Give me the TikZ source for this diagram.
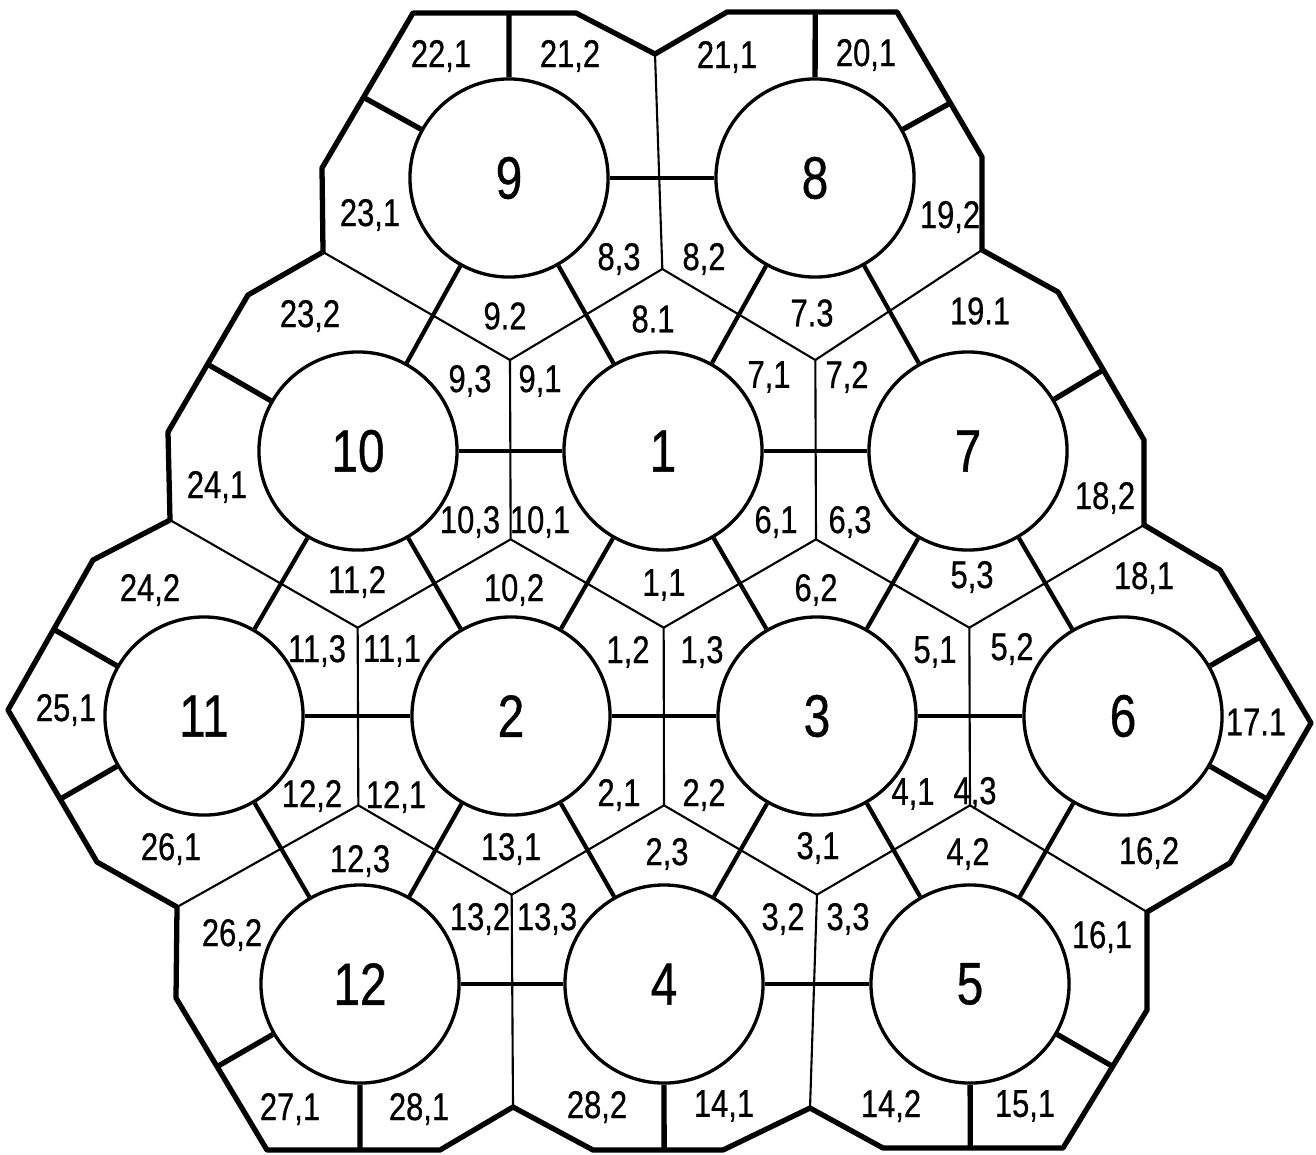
\documentclass[tikz,border=0pt]{standalone}
\usepackage{fontspec}
\setmainfont{Liberation Sans}[FakeStretch=0.8,FakeBold=0.6]
\usetikzlibrary{calc}
\newcommand{\radl}[4]{%
  \coordinate (tmpd) at ($(c#1)+(#2:100)$);
  \draw[radial] (r#1) -- (intersection of c#1--tmpd and #3--#4);}
\begin{document}
\begin{tikzpicture}[x=0.01cm,y=-0.01cm,
  rod/.style={circle,draw,line width=0.95pt,minimum size=1.98cm,inner sep=0pt,font=\fontsize{17}{20}\selectfont},
  bond/.style={line width=1.2pt},
  radial/.style={line width=1.5pt},
  wall/.style={line width=1.5pt,line join=round},
  cell/.style={line width=0.6pt},
  lab/.style={inner sep=0pt,font=\fontsize{11}{13}\selectfont}]
\useasboundingbox (0,0) rectangle (1316,1154);
% rod centres
\coordinate (c9) at (509,178);
\coordinate (c8) at (815,178);
\coordinate (c10) at (358,451);
\coordinate (c1) at (663,451);
\coordinate (c7) at (968,451);
\coordinate (c11) at (204,716);
\coordinate (c2) at (511,716);
\coordinate (c3) at (817,716);
\coordinate (c6) at (1123,716);
\coordinate (c12) at (360,984);
\coordinate (c4) at (664,984);
\coordinate (c5) at (970,984);
% subchannel centroids
\coordinate (s8) at (barycentric cs:c9=1,c8=1,c1=1);
\coordinate (s9) at (barycentric cs:c9=1,c10=1,c1=1);
\coordinate (s7) at (barycentric cs:c8=1,c1=1,c7=1);
\coordinate (s10) at (barycentric cs:c10=1,c1=1,c2=1);
\coordinate (s1) at (barycentric cs:c1=1,c2=1,c3=1);
\coordinate (s6) at (barycentric cs:c1=1,c7=1,c3=1);
\coordinate (s5) at (barycentric cs:c7=1,c3=1,c6=1);
\coordinate (s11) at (barycentric cs:c10=1,c11=1,c2=1);
\coordinate (s12) at (barycentric cs:c11=1,c2=1,c12=1);
\coordinate (s13) at (barycentric cs:c2=1,c12=1,c4=1);
\coordinate (s2) at (barycentric cs:c2=1,c3=1,c4=1);
\coordinate (s3) at (barycentric cs:c3=1,c4=1,c5=1);
\coordinate (s4) at (barycentric cs:c3=1,c6=1,c5=1);
% wall vertices
\coordinate (w1) at (413,13);
\coordinate (w2) at (576,13);
\coordinate (w3) at (655,54);
\coordinate (w4) at (727,12);
\coordinate (w5) at (897,12);
\coordinate (w6) at (982,157);
\coordinate (w7) at (982,250);
\coordinate (w8) at (1058,292);
\coordinate (w9) at (1144,440);
\coordinate (w10) at (1144,525);
\coordinate (w11) at (1220,570);
\coordinate (w12) at (1311,723);
\coordinate (w13) at (1230,863);
\coordinate (w14) at (1147,912);
\coordinate (w15) at (1147,1010);
\coordinate (w16) at (1063,1148);
\coordinate (w17) at (883,1148);
\coordinate (w18) at (810,1108);
\coordinate (w19) at (723,1150);
\coordinate (w20) at (593,1150);
\coordinate (w21) at (513,1107);
\coordinate (w22) at (440,1150);
\coordinate (w23) at (267,1150);
\coordinate (w24) at (176,998);
\coordinate (w25) at (177,907);
\coordinate (w26) at (97,862);
\coordinate (w27) at (8,710);
\coordinate (w28) at (93,560);
\coordinate (w29) at (170,520);
\coordinate (w30) at (168,432);
\coordinate (w31) at (248,295);
\coordinate (w32) at (323,252);
\coordinate (w33) at (322,168);
% rods
\foreach \n in {1,...,12} {\node[rod] (r\n) at (c\n) {\n};}
% cell boundaries (thin)
\draw[cell] (s8) -- (w3);
\draw[cell] (w32) -- (s9) -- (s8) -- (s7) -- (w7);
\draw[cell] (s9) -- (s10);
\draw[cell] (s7) -- (s6);
\draw[cell] (w29) -- (s11) -- (s10) -- (s1) -- (s6) -- (s5) -- (w10);
\draw[cell] (s11) -- (s12);
\draw[cell] (s1) -- (s2);
\draw[cell] (s5) -- (s4);
\draw[cell] (w25) -- (s12) -- (s13) -- (s2) -- (s3) -- (s4) -- (w14);
\draw[cell] (s13) -- (w21);
\draw[cell] (s3) -- (w18);
% bonds between rods
\draw[bond] (r9) -- (r8);
\draw[bond] (r9) -- (r10);
\draw[bond] (r9) -- (r1);
\draw[bond] (r8) -- (r1);
\draw[bond] (r8) -- (r7);
\draw[bond] (r10) -- (r1);
\draw[bond] (r1) -- (r7);
\draw[bond] (r10) -- (r11);
\draw[bond] (r10) -- (r2);
\draw[bond] (r1) -- (r2);
\draw[bond] (r1) -- (r3);
\draw[bond] (r7) -- (r3);
\draw[bond] (r7) -- (r6);
\draw[bond] (r11) -- (r2);
\draw[bond] (r2) -- (r3);
\draw[bond] (r3) -- (r6);
\draw[bond] (r11) -- (r12);
\draw[bond] (r2) -- (r12);
\draw[bond] (r2) -- (r4);
\draw[bond] (r3) -- (r4);
\draw[bond] (r3) -- (r5);
\draw[bond] (r6) -- (r5);
\draw[bond] (r12) -- (r4);
\draw[bond] (r4) -- (r5);
% radial dividers to the wall
\radl{9}{-90}{w1}{w2}
\radl{9}{-151}{w33}{w1}
\radl{8}{-90}{w4}{w5}
\radl{8}{-29}{w5}{w6}
\radl{10}{-150}{w30}{w31}
\radl{7}{-31}{w8}{w9}
\radl{11}{-150}{w27}{w28}
\radl{11}{150}{w26}{w27}
\radl{6}{-30}{w11}{w12}
\radl{6}{30}{w12}{w13}
\radl{12}{150}{w23}{w24}
\radl{12}{90}{w22}{w23}
\radl{4}{90}{w19}{w20}
\radl{5}{90}{w16}{w17}
\radl{5}{30}{w15}{w16}
% wall
\draw[wall] (w1) -- (w2) -- (w3) -- (w4) -- (w5) -- (w6) -- (w7) -- (w8) -- (w9) -- (w10)
  -- (w11) -- (w12) -- (w13) -- (w14) -- (w15) -- (w16) -- (w17) -- (w18) -- (w19) -- (w20)
  -- (w21) -- (w22) -- (w23) -- (w24) -- (w25) -- (w26) -- (w27) -- (w28) -- (w29) -- (w30)
  -- (w31) -- (w32) -- (w33) -- cycle;
% labels
\node[lab] (t221) at (441,56) {22,1};
\node[lab] (t212) at (570,56) {21,2};
\node[lab] (t211) at (727,57) {21,1};
\node[lab] (t201) at (866,55) {20,1};
\node[lab] (t231) at (370,215) {23,1};
\node[lab] (t192) at (950,217) {19,2};
\node[lab] (t83) at (619,259) {8,3};
\node[lab] (t82) at (704,259) {8,2};
\node[lab] (t232) at (310,316) {23,2};
\node[lab] (t92) at (505,316) {9.2};
\node[lab] (t81) at (653,319) {8.1};
\node[lab] (t73) at (812,313) {7.3};
\node[lab] (t191) at (980,311) {19.1};
\node[lab] (t93) at (470,381) {9,3};
\node[lab] (t91) at (540,381) {9,1};
\node[lab] (t71) at (769,377) {7,1};
\node[lab] (t72) at (847,377) {7,2};
\node[lab] (t241) at (217,487) {24,1};
\node[lab] (t182) at (1105,498) {18,2};
\node[lab] (t103) at (470,522) {10,3};
\node[lab] (t101) at (540,522) {10,1};
\node[lab] (t61) at (776,522) {6,1};
\node[lab] (t63) at (850,522) {6,3};
\node[lab] (t242) at (150,590) {24,2};
\node[lab] (t112) at (357,582) {11,2};
\node[lab] (t102) at (514,590) {10,2};
\node[lab] (t11) at (664,585) {1,1};
\node[lab] (t62) at (816,590) {6,2};
\node[lab] (t53) at (972,577) {5,3};
\node[lab] (t181) at (1144,578) {18,1};
\node[lab] (t113) at (317,651) {11,3};
\node[lab] (t111) at (392,651) {11,1};
\node[lab] (t12) at (628,652) {1,2};
\node[lab] (t13) at (702,652) {1,3};
\node[lab] (t51) at (935,652) {5,1};
\node[lab] (t52) at (1012,649) {5,2};
\node[lab] (t251) at (66,710) {25,1};
\node[lab] (t171) at (1256,722) {17.1};
\node[lab] (t122) at (312,796) {12,2};
\node[lab] (t121) at (396,797) {12,1};
\node[lab] (t21) at (619,795) {2,1};
\node[lab] (t22) at (704,795) {2,2};
\node[lab] (t41) at (913,794) {4,1};
\node[lab] (t43) at (975,793) {4,3};
\node[lab] (t261) at (171,849) {26,1};
\node[lab] (t123) at (360,861) {12,3};
\node[lab] (t131) at (511,849) {13,1};
\node[lab] (t23) at (667,854) {2,3};
\node[lab] (t31) at (818,848) {3,1};
\node[lab] (t42) at (968,854) {4,2};
\node[lab] (t162) at (1149,853) {16,2};
\node[lab] (t262) at (232,935) {26,2};
\node[lab] (t132) at (480,919) {13,2};
\node[lab] (t133) at (547,919) {13,3};
\node[lab] (t32) at (783,919) {3,2};
\node[lab] (t33) at (848,919) {3,3};
\node[lab] (t161) at (1102,937) {16,1};
\node[lab] (t271) at (290,1109) {27,1};
\node[lab] (t281) at (419,1109) {28,1};
\node[lab] (t282) at (597,1107) {28,2};
\node[lab] (t141) at (724,1106) {14,1};
\node[lab] (t142) at (891,1106) {14,2};
\node[lab] (t151) at (1025,1106) {15,1};
\end{tikzpicture}
\end{document}
